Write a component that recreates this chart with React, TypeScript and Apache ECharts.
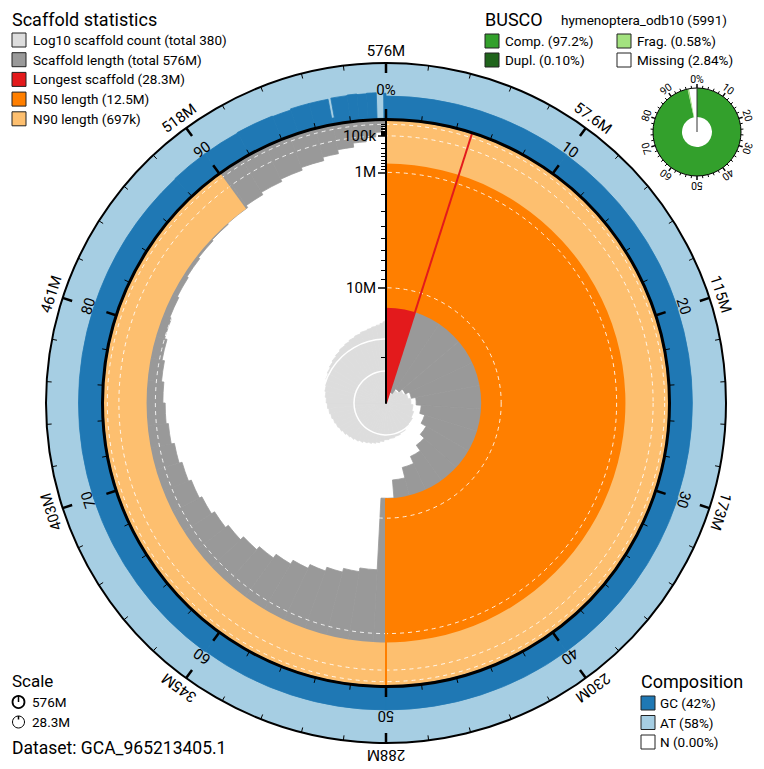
import React, { useEffect, useRef } from 'react';
import * as echarts from 'echarts';

const FONT = 'Roboto, "Noto Sans", sans-serif';

// ---------- assembly statistics ----------
const TOTAL_BP = 575.7e6;
const SCAFFOLD_COUNT = 380;
const LONGEST_BP = 28.3e6;
const N50_BP = 12.5e6;
const N90_BP = 0.697e6;
const DATASET = 'GCA_965213405.1';

// size-ordered scaffold steps around the circumference
const stepEndPct = [4.92, 9.45, 13.79, 18.0, 22.06, 25.99, 29.75, 33.37, 36.81, 40.09, 43.18, 46.07, 48.67, 50.84,
  52.5, 54.0, 55.5, 57.0, 58.5, 60.0, 61.5, 63.0, 64.5, 66.0, 67.5, 69.0, 70.5, 72.0, 73.5, 75.0, 76.5, 78.0, 79.5,
  81.0, 82.5, 84.0, 85.5, 87.0, 88.5, 90.2, 91.5, 93.0, 94.5, 96.0, 97.0, 98.0, 98.8, 99.4, 99.8, 100];
const stepLenMb = [28.3, 26.1, 25.0, 24.2, 23.4, 22.6, 21.7, 20.8, 19.8, 18.9, 17.8, 16.6, 15.0, 12.5,
  4.8, 4.5, 4.2, 3.9, 3.6, 3.3, 3.0, 2.75, 2.5, 2.3, 2.1, 1.95, 1.8, 1.65, 1.5, 1.4, 1.3, 1.2, 1.1,
  1.0, 0.93, 0.87, 0.82, 0.77, 0.73, 0.697, 0.62, 0.54, 0.47, 0.40, 0.32, 0.24, 0.17, 0.11, 0.06, 0.02];
const stepCount = [1, 2, 3, 4, 5, 6, 7, 8, 9, 10, 11, 12, 13, 14,
  16, 18, 20, 22, 24, 27, 30, 33, 36, 40, 44, 48, 52, 57, 62, 68, 74, 81, 88,
  96, 105, 115, 125, 136, 147, 161, 172, 186, 202, 221, 237, 257, 280, 310, 345, 380];

// GC content steps (percent of each bin)
const gcEndPct = [10, 20, 30, 40, 50, 60, 70, 80, 88, 90, 92, 94, 95, 96, 97, 97.15, 98, 98.5, 99, 99.5, 99.88, 100];
const gcPct = [42, 41.5, 41, 42, 42, 42, 43, 43, 43, 44, 44, 45, 44, 46, 46, 12, 47, 48, 47, 48, 3, 47];

// composition legend
const compLabels = ['GC', 'AT', 'N'];
const compValues = ['42%', '58%', '0.00%'];
const compColors = ['#1f78b4', '#a6cee3', '#ffffff'];

// BUSCO
const BUSCO_LINEAGE = 'hymenoptera_odb10';
const BUSCO_TOTAL = 5991;
const buscoLabels = ['Comp.', 'Dupl.', 'Frag.', 'Missing'];
const buscoPct = [97.2, 0.1, 0.58, 2.84];
const buscoColors = ['#33a02c', '#20641c', '#a3e27f', '#ffffff'];

// axis ticks
const angleTicks = [0, 10, 20, 30, 40, 50, 60, 70, 80, 90];
const radialTickMb = [0.1, 1, 10];
const radialMinorMb = [0.01, 0.02, 0.03, 0.04, 0.05, 0.06, 0.07, 0.08, 0.09, 0.2, 0.3, 0.4, 0.5, 0.6, 0.7, 0.8, 0.9,
  2, 3, 4, 5, 6, 7, 8, 9, 20];
const dashedRingMb = [0.01, 0.1, 1, 10];
const countRings = [10, 100];

// legend texts
function fmtBp(v: number): string {
  if (v >= 1e6) return `${Number((v / 1e6).toPrecision(3))}M`;
  if (v >= 1e3) return `${Number((v / 1e3).toPrecision(3))}k`;
  return `${v}`;
}
const scaffoldLegend = [
  `Log10 scaffold count (total ${SCAFFOLD_COUNT})`,
  `Scaffold length (total ${fmtBp(TOTAL_BP)})`,
  `Longest scaffold (${fmtBp(LONGEST_BP)})`,
  `N50 length (${fmtBp(N50_BP)})`,
  `N90 length (${fmtBp(N90_BP)})`,
];
const scaffoldColors = ['#dddddd', '#999999', '#e31a1c', '#ff7f00', '#fdbf6f'];

// ---------- layout ----------
const CX = 386, CY = 403;
const R_SNAIL = 284, R_OUTER = 340;
const BX = 697, BY = 132, BR0 = 15, BR = 44;

const sqrtMb = (mb: number) => Math.sqrt(mb);
const SQRT_MAX = sqrtMb(LONGEST_BP / 1e6);

function sector(params: any, api: any, rvA: number, rvB: number, a0: number, a1: number, refR: number, style: any) {
  const cs = params.coordSys;
  const cx = cs.cx, cy = cs.cy;
  const pA = api.coord([rvA, a0]);
  const pB = api.coord([rvB, a0]);
  const q0 = api.coord([refR, a0]);
  const q1 = api.coord([refR, a1]);
  const s = Math.atan2(q0[1] - cy, q0[0] - cx);
  let e = Math.atan2(q1[1] - cy, q1[0] - cx);
  if (a1 > a0 && e <= s + 1e-9) e += Math.PI * 2;
  const r1 = Math.hypot(pA[0] - cx, pA[1] - cy);
  const r2 = Math.hypot(pB[0] - cx, pB[1] - cy);
  return {
    type: 'sector',
    shape: { cx, cy, r0: Math.min(r1, r2), r: Math.max(r1, r2), startAngle: s, endAngle: e, clockwise: true },
    style,
  };
}
const solid = (c: string) => ({ fill: c, stroke: c, lineWidth: 0.8 });

function ringText(params: any, api: any, refR: number, pct: number, offset: number, text: string, fontSize: number) {
  const cs = params.coordSys;
  const q = api.coord([refR, pct]);
  const t = Math.atan2(q[1] - cs.cy, q[0] - cs.cx);
  const rr = cs.r + offset;
  return {
    type: 'text',
    x: cs.cx + rr * Math.cos(t),
    y: cs.cy + rr * Math.sin(t),
    rotation: -(t + Math.PI / 2),
    style: { text, x: 0, y: 0, align: 'center', verticalAlign: 'middle', fontSize, fontFamily: FONT, fill: '#000' },
  };
}

function buildOption(): any {
  const steps = stepEndPct.map((e, i) => ({ start: i === 0 ? 0 : stepEndPct[i - 1], end: e, len: stepLenMb[i], count: stepCount[i] }));
  const gcSteps = gcEndPct.map((e, i) => [gcPct[i], i === 0 ? 0 : gcEndPct[i - 1], e]);
  const statItems = [
    [SQRT_MAX, 0, (LONGEST_BP / TOTAL_BP) * 100, 0],
    [sqrtMb(N50_BP / 1e6), 0, 50, 1],
    [sqrtMb(N90_BP / 1e6), 0, 90, 2],
  ];
  const statColors = ['#e31a1c', '#ff7f00', '#fdbf6f'];

  const angleBase = {
    type: 'value', min: 0, max: 100, interval: 10, startAngle: 90, clockwise: true, z: 10, silent: true,
    axisLabel: { show: false }, splitLine: { show: false }, minorSplitLine: { show: false },
  };

  const graphic: any[] = [];
  const txt = (x: number, y: number, text: string, fontSize: number, extra: any = {}) =>
    graphic.push({ type: 'text', x, y, silent: true, style: { text, fontSize, fontFamily: FONT, fill: '#000', align: 'left', verticalAlign: 'middle', ...extra } });
  const sw = (x: number, y: number, fill: string) =>
    graphic.push({ type: 'rect', x, y: y - 7, silent: true, shape: { width: 14, height: 14 }, style: { fill, stroke: '#222', lineWidth: 1 } });

  txt(12, 19, 'Scaffold statistics', 18);
  scaffoldLegend.forEach((t, i) => {
    const y = 40 + i * 19.7;
    sw(12, y, scaffoldColors[i]);
    txt(33, y, t, 13.5);
  });

  txt(485, 19, 'BUSCO', 18);
  txt(561, 20, `${BUSCO_LINEAGE} (${BUSCO_TOTAL})`, 13.5);
  const buscoPos = [[485, 41], [485, 60], [617, 41], [617, 60]];
  buscoLabels.forEach((l, i) => {
    const [x, y] = buscoPos[i];
    sw(x, y, buscoColors[i]);
    txt(x + 20, y, `${l} (${buscoPct[i].toFixed(i === 0 ? 1 : 2)}%)`, 13.5);
  });

  txt(12, 681, 'Scale', 17);
  [TOTAL_BP, LONGEST_BP].forEach((v, i) => {
    const y = 702 + i * 20;
    graphic.push({ type: 'circle', silent: true, shape: { cx: 18.5, cy: y, r: 6 }, style: { fill: 'none', stroke: '#000', lineWidth: i === 0 ? 1.8 : 1 } });
    graphic.push({ type: 'line', silent: true, shape: { x1: 18.5, y1: i === 0 ? y : y - 2.5, x2: 18.5, y2: y - 6 }, style: { stroke: '#000', lineWidth: 1.5 } });
    txt(32, y, fmtBp(v), 13.5);
  });
  txt(12, 748, `Dataset: ${DATASET}`, 17.5);

  txt(641, 681, 'Composition', 18);
  compLabels.forEach((l, i) => {
    const y = 703 + i * 19.5;
    sw(641, y, compColors[i]);
    txt(660, y, `${l} (${compValues[i]})`, 13.5);
  });

  return {
    animation: false,
    backgroundColor: '#fff',
    polar: [
      { center: [CX, CY], radius: [0, R_SNAIL] },
      { center: [CX, CY], radius: [R_SNAIL - 1, R_OUTER] },
      { center: [BX, BY], radius: [0, BR] },
      { center: [CX, CY], radius: [0, 96] },
      { center: [CX, CY], radius: [0, R_SNAIL] },
    ],
    angleAxis: [
      { ...angleBase, polarIndex: 0,
        axisLine: { show: true, lineStyle: { color: '#000', width: 2 } },
        axisTick: { show: true, inside: false, length: 10, lineStyle: { color: '#000', width: 2.5 } },
        minorTick: { show: true, splitNumber: 5, length: 5, lineStyle: { color: '#000', width: 1 } } },
      { ...angleBase, polarIndex: 1,
        axisLine: { show: true, lineStyle: { color: '#000', width: 2 } },
        axisTick: { show: true, inside: true, length: 10, lineStyle: { color: '#000', width: 2.5 } },
        minorTick: { show: true, splitNumber: 5, length: 5, lineStyle: { color: '#000', width: 1 } } },
      { ...angleBase, polarIndex: 2,
        axisLine: { show: true, lineStyle: { color: '#000', width: 1 } },
        axisTick: { show: true, inside: false, length: 4, lineStyle: { color: '#000', width: 1.5 } },
        minorTick: { show: true, splitNumber: 5, length: 2.5, lineStyle: { color: '#000', width: 1 } } },
      { ...angleBase, polarIndex: 3, show: false },
      { ...angleBase, polarIndex: 4, show: false },
    ],
    radiusAxis: [
      { polarIndex: 0, type: 'value', min: 0, max: SQRT_MAX, inverse: true, z: 11, silent: true,
        axisLine: { show: true, lineStyle: { color: '#000', width: 2 } },
        axisTick: { show: true, length: 8, customValues: radialTickMb.map(sqrtMb), lineStyle: { color: '#000', width: 1.5 } },
        axisLabel: { show: true, customValues: radialTickMb.map(sqrtMb), margin: 10, fontSize: 15, fontFamily: FONT, color: '#000',
          formatter: (v: number) => fmtBp(Math.round(v * v * 1e6)) },
        splitLine: { show: false } },
      { polarIndex: 1, show: false, type: 'value', min: 0, max: 100 },
      { polarIndex: 2, show: false, type: 'value', min: 0, max: 1 },
      { polarIndex: 3, show: false, type: 'log', logBase: 10, min: 1, max: 1000 },
      { polarIndex: 4, type: 'value', min: 0, max: SQRT_MAX, inverse: true, z: 11, silent: true,
        axisLine: { show: false },
        axisTick: { show: true, length: 5, customValues: radialMinorMb.map(sqrtMb), lineStyle: { color: '#000', width: 1 } },
        axisLabel: { show: false }, splitLine: { show: false } },
    ],
    graphic,
    series: [
      { // log10 scaffold count
        type: 'custom', coordinateSystem: 'polar', polarIndex: 3, silent: true, z: 2,
        data: steps.map((s) => [s.count, s.start, s.end]),
        renderItem: (params: any, api: any) => sector(params, api, 1, api.value(0), api.value(1), api.value(2), 1000, solid('#dddddd')),
      },
      { // count rings
        type: 'custom', coordinateSystem: 'polar', polarIndex: 3, silent: true, z: 2,
        data: countRings.map((c) => [c, 0]),
        renderItem: (params: any, api: any) => {
          const cs = params.coordSys; const p = api.coord([api.value(0), 0]);
          return { type: 'circle', shape: { cx: cs.cx, cy: cs.cy, r: Math.hypot(p[0] - cs.cx, p[1] - cs.cy) }, style: { fill: 'none', stroke: '#fff', lineWidth: 1.5 } };
        },
      },
      { // scaffold lengths
        type: 'custom', coordinateSystem: 'polar', polarIndex: 0, silent: true, z: 2,
        data: steps.map((s) => [sqrtMb(s.len), s.start, s.end]),
        renderItem: (params: any, api: any) => sector(params, api, api.value(0), 0, api.value(1), api.value(2), 0, solid('#999999')),
      },
      { // longest / N50 / N90 areas
        type: 'custom', coordinateSystem: 'polar', polarIndex: 0, silent: true, z: 2,
        data: statItems,
        renderItem: (params: any, api: any) => sector(params, api, api.value(0), 0, api.value(1), api.value(2), 0, { fill: statColors[api.value(3)] }),
      },
      { // dashed length rings
        type: 'custom', coordinateSystem: 'polar', polarIndex: 0, silent: true, z: 3,
        data: dashedRingMb.map((m) => [sqrtMb(m), 0]),
        renderItem: (params: any, api: any) => {
          const cs = params.coordSys; const p = api.coord([api.value(0), 0]);
          return { type: 'circle', shape: { cx: cs.cx, cy: cs.cy, r: Math.hypot(p[0] - cs.cx, p[1] - cs.cy) }, style: { fill: 'none', stroke: 'rgba(255,255,255,0.85)', lineWidth: 1, lineDash: [4, 4] } };
        },
      },
      { // stat lines
        type: 'custom', coordinateSystem: 'polar', polarIndex: 0, silent: true, z: 4,
        data: statItems.map((s) => [s[0], s[2], s[3]]),
        renderItem: (params: any, api: any) => {
          const a = api.coord([api.value(0), api.value(1)]); const b = api.coord([0, api.value(1)]);
          return { type: 'line', shape: { x1: a[0], y1: a[1], x2: b[0], y2: b[1] }, style: { stroke: statColors[api.value(2)], lineWidth: 2 } };
        },
      },
      { // AT background ring
        type: 'custom', coordinateSystem: 'polar', polarIndex: 1, silent: true, z: 2,
        data: [[100, 0, 100]],
        renderItem: (params: any, api: any) => sector(params, api, 0, api.value(0), api.value(1), api.value(2), 100, { fill: compColors[1] }),
      },
      { // GC ring
        type: 'custom', coordinateSystem: 'polar', polarIndex: 1, silent: true, z: 2,
        data: gcSteps,
        renderItem: (params: any, api: any) => sector(params, api, 0, api.value(0), api.value(1), api.value(2), 100, solid(compColors[0])),
      },
      { // outer labels
        type: 'custom', coordinateSystem: 'polar', polarIndex: 1, silent: true, z: 20,
        data: angleTicks.map((p) => [100, p]),
        renderItem: (params: any, api: any) => {
          const p = api.value(1);
          return ringText(params, api, 100, p, 12, fmtBp((TOTAL_BP * (p === 0 ? 100 : p)) / 100), 15);
        },
      },
      { // inner labels
        type: 'custom', coordinateSystem: 'polar', polarIndex: 0, silent: true, z: 20,
        data: angleTicks.map((p) => [0, p]),
        renderItem: (params: any, api: any) => {
          const p = api.value(1);
          return ringText(params, api, 0, p, 29, p === 0 ? '0%' : `${p}`, 15);
        },
      },
      { // BUSCO donut
        type: 'pie', center: [BX, BY], radius: [BR0, BR], startAngle: 90, clockwise: true, silent: true, z: 2,
        label: { show: false }, labelLine: { show: false }, emphasis: { disabled: true },
        itemStyle: { borderWidth: 0 },
        data: buscoLabels.map((l, i) => ({ name: l, value: buscoPct[i], itemStyle: { color: buscoColors[i] } })),
      },
      { // BUSCO zero line
        type: 'custom', coordinateSystem: 'polar', polarIndex: 2, silent: true, z: 12,
        data: [[1, 0]],
        renderItem: (params: any, api: any) => {
          const cs = params.coordSys; const b = api.coord([api.value(0), api.value(1)]);
          const t = Math.atan2(b[1] - cs.cy, b[0] - cs.cx);
          return { type: 'line', shape: { x1: cs.cx, y1: cs.cy, x2: cs.cx + (cs.r + 2) * Math.cos(t), y2: cs.cy + (cs.r + 2) * Math.sin(t) }, style: { stroke: '#333', lineWidth: 1 } };
        },
      },
      { // BUSCO labels
        type: 'custom', coordinateSystem: 'polar', polarIndex: 2, silent: true, z: 20,
        data: angleTicks.map((p) => [1, p]),
        renderItem: (params: any, api: any) => {
          const p = api.value(1);
          return ringText(params, api, 1, p, 9, p === 0 ? '0%' : `${p}`, 10.5);
        },
      },
    ],
  };
}

export default function App() {
  const ref = useRef<HTMLDivElement>(null);
  useEffect(() => {
    document.body.style.margin = '0';
    if (!ref.current) return;
    const chart = echarts.init(ref.current, undefined, { renderer: 'svg' });
    chart.setOption(buildOption());
    return () => chart.dispose();
  }, []);
  return <div ref={ref} style={{ width: 764, height: 769 }} />;
}
